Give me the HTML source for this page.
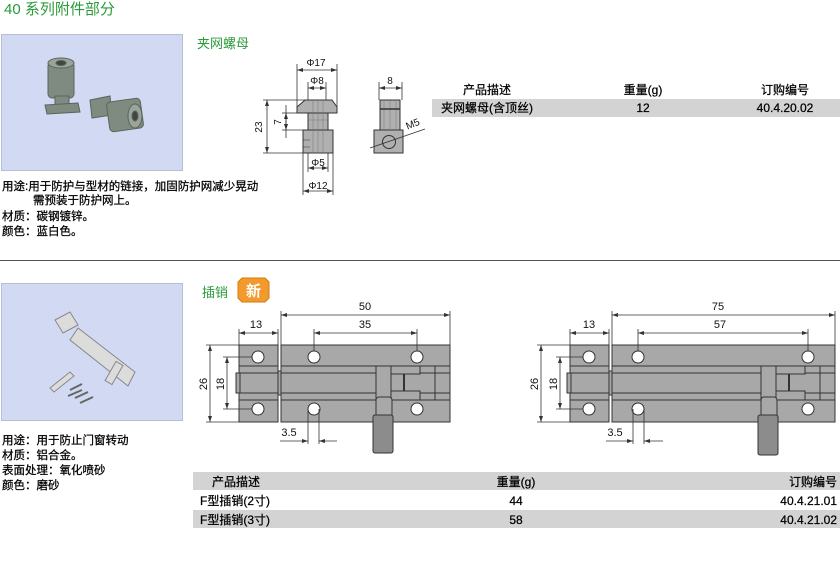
<!DOCTYPE html>
<html><head><meta charset="utf-8"><style>
body{margin:0;background:#fff;width:840px;height:588px;overflow:hidden;font-family:"Liberation Sans","Noto Sans CJK SC",sans-serif}
svg{position:absolute;left:0;top:0}
text{font-family:"Liberation Sans","Noto Sans CJK SC",sans-serif}
.d{stroke:#000;stroke-width:0.25}
</style></head><body>
<svg width="840" height="588" viewBox="0 0 840 588">
<defs>
<marker id="a" markerWidth="6" markerHeight="6" refX="6" refY="3" orient="auto-start-reverse" markerUnits="userSpaceOnUse"><path d="M0,1 L6,3 L0,5z" fill="#333"/></marker>
</defs>
<text x="4" y="14" font-size="15" fill="#2a9a3a">40 系列附件部分</text>
<!-- top photo -->
<rect x="1.5" y="34.5" width="181" height="136" fill="#d2d9f2" stroke="#b8bdd0"/>
<g fill="#7f8a80" stroke="#5c645c">
<rect x="48" y="62" width="26" height="36" rx="4"/>
<ellipse cx="61" cy="63" rx="13" ry="5" fill="#9aa49a"/>
<ellipse cx="61" cy="63" rx="5" ry="2.5" fill="#444"/>
<rect x="55" y="96" width="14" height="12"/>
<path d="M45 105 L78 103 L80 112 L47 114z"/>
<path d="M90 100 L110 96 L112 115 L92 118z"/>
<rect x="108" y="100" width="34" height="30" rx="4" transform="rotate(-8 125 115)"/>
<ellipse cx="135" cy="116" rx="7" ry="12" fill="#9aa49a"/>
<ellipse cx="135" cy="116" rx="3" ry="5" fill="#444"/>
</g>
<text x="197" y="48" font-size="13" fill="#2a9a3a">夹网螺母</text>
<!-- top drawing -->
<g stroke="#333" stroke-width="0.8" fill="none">
<line x1="297" y1="70" x2="337" y2="70" marker-start="url(#a)" marker-end="url(#a)"/>
<line x1="297" y1="64" x2="297" y2="107"/><line x1="337" y1="64" x2="337" y2="107"/>
<line x1="308" y1="88" x2="326" y2="88" marker-start="url(#a)" marker-end="url(#a)"/>
<line x1="308" y1="82" x2="308" y2="100"/><line x1="326" y1="82" x2="326" y2="100"/>
<line x1="267" y1="100" x2="267" y2="153" marker-start="url(#a)" marker-end="url(#a)"/>
<line x1="263" y1="100" x2="305" y2="100"/><line x1="263" y1="153" x2="303" y2="153"/>
<line x1="286" y1="113" x2="286" y2="130" marker-start="url(#a)" marker-end="url(#a)"/>
<line x1="282" y1="113" x2="297" y2="113"/><line x1="282" y1="130" x2="303" y2="130"/>
<line x1="286" y1="105" x2="286" y2="138"/>
<line x1="308" y1="168" x2="328" y2="168" marker-start="url(#a)" marker-end="url(#a)"/>
<line x1="308" y1="150" x2="308" y2="172"/><line x1="328" y1="150" x2="328" y2="172"/>
<line x1="303" y1="191" x2="333" y2="191" marker-start="url(#a)" marker-end="url(#a)"/>
<line x1="303" y1="153" x2="303" y2="195"/><line x1="333" y1="153" x2="333" y2="195"/>
<line x1="379" y1="88" x2="402" y2="88" marker-start="url(#a)" marker-end="url(#a)"/>
<line x1="379" y1="82" x2="379" y2="100"/><line x1="402" y1="82" x2="402" y2="100"/>
</g>
<g stroke="#333" stroke-width="1" fill="#b0b0b0">
<path d="M305 100 L332 100 L337 107 L337 113 L297 113 L297 107z"/>
<rect x="308" y="113" width="20" height="17"/>
<rect x="303" y="130" width="30" height="23"/>
<rect x="380" y="100" width="20" height="30"/>
<rect x="374" y="130" width="29" height="23"/>
<circle cx="389" cy="142" r="6.5" fill="none"/>
</g>
<g stroke="#777" stroke-width="0.5">
<line x1="313" y1="100" x2="313" y2="153"/><line x1="318" y1="100" x2="318" y2="153"/><line x1="323" y1="100" x2="323" y2="153"/>
<line x1="384" y1="100" x2="384" y2="130"/><line x1="390" y1="100" x2="390" y2="130"/><line x1="396" y1="100" x2="396" y2="130"/>
<line x1="380" y1="109" x2="400" y2="109" stroke="#333" stroke-width="1.5"/>
<line x1="308" y1="120" x2="328" y2="120"/>
<line x1="303" y1="140" x2="310" y2="140" stroke="#333"/><line x1="303" y1="147" x2="310" y2="147" stroke="#333"/>
</g>
<line x1="370" y1="148" x2="425" y2="129" stroke="#333" stroke-width="0.8"/>
<g font-size="10" fill="#111" text-anchor="middle">
<text x="316" y="66">Φ17</text><text x="317" y="84">Φ8</text>
<text x="390" y="84">8</text>
<text x="318" y="166">Φ5</text><text x="318" y="189">Φ12</text>
<text transform="translate(262,127) rotate(-90)">23</text>
<text transform="translate(281,122) rotate(-90)">7</text>
<text transform="translate(414,127) rotate(-22)">M5</text>
</g>
<!-- top table -->
<rect x="432" y="99" width="408" height="18" fill="#d3d3d3"/>
<g font-size="12" fill="#000" text-anchor="middle" class="d">
<text x="487" y="94">产品描述</text><text x="643" y="94">重量(g)</text><text x="785" y="94">订购编号</text>
<text x="487" y="112">夹网螺母(含顶丝)</text><text x="643" y="112">12</text><text x="785" y="112">40.4.20.02</text>
</g>
<g font-size="11.5" fill="#000" class="d">
<text x="2" y="190">用途:用于防护与型材的链接，加固防护网减少晃动</text>
<text x="33" y="204">需预装于防护网上。</text>
<text x="2" y="220">材质：碳钢镀锌。</text>
<text x="2" y="235">颜色：蓝白色。</text>
</g>
<line x1="0" y1="260.5" x2="840" y2="260.5" stroke="#555" stroke-width="1"/>
<!-- bottom photo -->
<rect x="1.5" y="283.5" width="181" height="137" fill="#d2d9f2" stroke="#b8bdd0"/>
<g fill="#dcdcdc" stroke="#888">
<path d="M70 340 L78 328 L135 372 L128 386z"/>
<path d="M55 320 L70 312 L78 325 L63 333z"/>
<path d="M50 388 L70 372 L74 376 L54 392z"/>
<rect x="110" y="362" width="8" height="22" transform="rotate(30 114 373)"/>
</g>
<g stroke="#666" stroke-width="2">
<line x1="70" y1="390" x2="82" y2="384"/><line x1="68" y1="396" x2="82" y2="390"/>
<line x1="75" y1="398" x2="88" y2="392"/><line x1="80" y1="403" x2="93" y2="397"/>
</g>
<text x="202" y="297" font-size="13" fill="#2a9a3a">插销</text>
<path d="M242 278 L265 278 L269 282 L269 298 L265 302 L242 302 L238 298 L238 282z" fill="#f29a2e" stroke="#d67a10"/>
<text x="253.5" y="296" font-size="15" fill="#fff" text-anchor="middle" font-weight="bold">新</text>
<g font-size="11.5" fill="#000" class="d">
<text x="2" y="444">用途：用于防止门窗转动</text>
<text x="2" y="459">材质：铝合金。</text>
<text x="2" y="474">表面处理：氧化喷砂</text>
<text x="2" y="489">颜色：磨砂</text>
</g>
<!-- bolt 1 -->
<g stroke="#333" stroke-width="1" fill="#a8a8a8">
<rect x="239" y="345" width="39" height="77"/>
<rect x="281" y="345" width="169" height="77"/>
<rect x="236" y="373" width="4" height="20"/>
<rect x="278" y="371" width="3" height="24"/>
<line x1="239" y1="366" x2="278" y2="366"/><line x1="239" y1="400" x2="278" y2="400"/>
<line x1="239" y1="373" x2="278" y2="373"/><line x1="239" y1="393" x2="278" y2="393"/>
<line x1="281" y1="366" x2="450" y2="366"/><line x1="281" y1="400" x2="450" y2="400"/>
<line x1="281" y1="373" x2="376" y2="373"/><line x1="281" y1="393" x2="376" y2="393"/>
<line x1="420" y1="373" x2="450" y2="373"/><line x1="420" y1="393" x2="450" y2="393"/>
<rect x="376" y="366" width="15" height="34"/>
<path d="M391 366 L420 366 L420 374 L391 374z"/>
<path d="M391 391 L420 391 L420 400 L391 400z"/>
<line x1="435" y1="366" x2="435" y2="400"/>
<line x1="404" y1="374" x2="404" y2="391" stroke-width="2"/>
<rect x="376" y="397" width="16" height="20" rx="3"/>
<rect x="373" y="415" width="20" height="38" rx="2" fill="#8c8c8c"/>
</g>
<g fill="#fff" stroke="#333">
<circle cx="258" cy="357" r="6"/><circle cx="258" cy="409" r="6"/>
<circle cx="314" cy="357" r="6"/><circle cx="417" cy="357" r="6"/>
<circle cx="314" cy="409" r="6"/><circle cx="417" cy="409" r="6"/>
</g>
<g stroke="#333" stroke-width="0.8" fill="none">
<line x1="281" y1="315" x2="450" y2="315" marker-start="url(#a)" marker-end="url(#a)"/>
<line x1="281" y1="311" x2="281" y2="345"/><line x1="450" y1="311" x2="450" y2="345"/>
<line x1="314" y1="333" x2="417" y2="333" marker-start="url(#a)" marker-end="url(#a)"/>
<line x1="314" y1="329" x2="314" y2="351"/><line x1="417" y1="329" x2="417" y2="351"/>
<line x1="239" y1="333" x2="278" y2="333" marker-start="url(#a)" marker-end="url(#a)"/>
<line x1="239" y1="329" x2="239" y2="345"/><line x1="278" y1="329" x2="278" y2="345"/>
<line x1="210" y1="345" x2="210" y2="422" marker-start="url(#a)" marker-end="url(#a)"/>
<line x1="206" y1="345" x2="239" y2="345"/><line x1="206" y1="422" x2="239" y2="422"/>
<line x1="227" y1="357" x2="227" y2="409" marker-start="url(#a)" marker-end="url(#a)"/>
<line x1="223" y1="357" x2="252" y2="357"/><line x1="223" y1="409" x2="252" y2="409"/>
<line x1="308" y1="409" x2="308" y2="444"/><line x1="319" y1="409" x2="319" y2="444"/>
<line x1="280" y1="441" x2="308" y2="441" marker-end="url(#a)"/>
<line x1="337" y1="441" x2="319" y2="441" marker-end="url(#a)"/>
</g>
<!-- bolt 2 -->
<g stroke="#333" stroke-width="1" fill="#a8a8a8">
<rect x="570" y="345" width="39" height="77"/>
<rect x="612" y="345" width="223" height="77"/>
<rect x="567" y="373" width="4" height="20"/>
<rect x="609" y="371" width="3" height="24"/>
<line x1="570" y1="366" x2="609" y2="366"/><line x1="570" y1="400" x2="609" y2="400"/>
<line x1="570" y1="373" x2="609" y2="373"/><line x1="570" y1="393" x2="609" y2="393"/>
<line x1="612" y1="366" x2="835" y2="366"/><line x1="612" y1="400" x2="835" y2="400"/>
<line x1="612" y1="373" x2="761" y2="373"/><line x1="612" y1="393" x2="761" y2="393"/>
<line x1="805" y1="373" x2="835" y2="373"/><line x1="805" y1="393" x2="835" y2="393"/>
<rect x="761" y="366" width="15" height="34"/>
<path d="M776 366 L805 366 L805 374 L776 374z"/>
<path d="M776 391 L805 391 L805 400 L776 400z"/>
<line x1="820" y1="366" x2="820" y2="400"/>
<line x1="789" y1="374" x2="789" y2="391" stroke-width="2"/>
<rect x="761" y="397" width="16" height="20" rx="3"/>
<rect x="758" y="415" width="20" height="40" rx="2" fill="#8c8c8c"/>
</g>
<g fill="#fff" stroke="#333">
<circle cx="589" cy="357" r="6"/><circle cx="589" cy="409" r="6"/>
<circle cx="638" cy="357" r="6"/><circle cx="808" cy="357" r="6"/>
<circle cx="638" cy="409" r="6"/><circle cx="808" cy="409" r="6"/>
</g>
<g stroke="#333" stroke-width="0.8" fill="none">
<line x1="612" y1="315" x2="835" y2="315" marker-start="url(#a)" marker-end="url(#a)"/>
<line x1="612" y1="311" x2="612" y2="345"/><line x1="835" y1="311" x2="835" y2="345"/>
<line x1="638" y1="333" x2="808" y2="333" marker-start="url(#a)" marker-end="url(#a)"/>
<line x1="638" y1="329" x2="638" y2="351"/><line x1="808" y1="329" x2="808" y2="351"/>
<line x1="570" y1="333" x2="609" y2="333" marker-start="url(#a)" marker-end="url(#a)"/>
<line x1="570" y1="329" x2="570" y2="345"/><line x1="609" y1="329" x2="609" y2="345"/>
<line x1="541" y1="345" x2="541" y2="422" marker-start="url(#a)" marker-end="url(#a)"/>
<line x1="537" y1="345" x2="570" y2="345"/><line x1="537" y1="422" x2="570" y2="422"/>
<line x1="560" y1="357" x2="560" y2="409" marker-start="url(#a)" marker-end="url(#a)"/>
<line x1="556" y1="357" x2="583" y2="357"/><line x1="556" y1="409" x2="583" y2="409"/>
<line x1="633" y1="409" x2="633" y2="444"/><line x1="644" y1="409" x2="644" y2="444"/>
<line x1="606" y1="441" x2="633" y2="441" marker-end="url(#a)"/>
<line x1="663" y1="441" x2="644" y2="441" marker-end="url(#a)"/>
</g>
<g font-size="11" fill="#111" text-anchor="middle">
<text x="365" y="310">50</text><text x="365" y="328">35</text><text x="256" y="328">13</text>
<text x="289" y="436">3.5</text>
<text transform="translate(207,384) rotate(-90)">26</text>
<text transform="translate(224,384) rotate(-90)">18</text>
<text x="718" y="310">75</text><text x="720" y="328">57</text><text x="589" y="328">13</text>
<text x="615" y="436">3.5</text>
<text transform="translate(538,384) rotate(-90)">26</text>
<text transform="translate(557,384) rotate(-90)">18</text>
</g>
<!-- bottom table -->
<rect x="193" y="472" width="647" height="18" fill="#d3d3d3"/>
<rect x="193" y="510" width="647" height="18" fill="#d3d3d3"/>
<g font-size="12" fill="#000" class="d">
<text x="212" y="486">产品描述</text>
<text x="516" y="486" text-anchor="middle">重量(g)</text>
<text x="837" y="486" text-anchor="end">订购编号</text>
<text x="200" y="505">F型插销(2寸)</text>
<text x="516" y="505" text-anchor="middle">44</text>
<text x="837" y="505" text-anchor="end">40.4.21.01</text>
<text x="200" y="524">F型插销(3寸)</text>
<text x="516" y="524" text-anchor="middle">58</text>
<text x="837" y="524" text-anchor="end">40.4.21.02</text>
</g>
</svg>
</body></html>
